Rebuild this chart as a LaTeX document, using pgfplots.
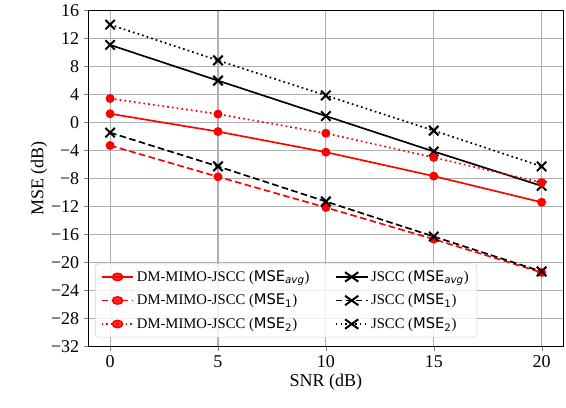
\documentclass[border=0pt]{standalone}
\usepackage{fontspec}
\setmainfont{Liberation Serif}
\newfontfamily\dvs{DejaVu Sans}
\usepackage{pgfplots}
\pgfplotsset{compat=1.18}
\newcommand\mse[1]{{\dvs MSE}\textsubscript{\dvs #1}}
\definecolor{gridgray}{RGB}{176,176,176}
\begin{document}
\begin{tikzpicture}
\begin{axis}[
  scale only axis=true,
  width=356pt, height=252pt,
  xmin=-1, xmax=21, ymin=-32, ymax=16,
  xtick={0,5,10,15,20},
  ytick={-32,-28,...,16},
  /pgf/number format/assume math mode=true,
  xticklabel={\pgfmathprintnumber[assume math mode=true]{\tick}},
  yticklabel={\pgfmathparse{abs(\tick)}\ifdim\tick pt<0pt\char"2212\fi\pgfmathprintnumber[assume math mode=true]{\pgfmathresult}},
  tick pos=left, tick align=outside,
  major tick length=3.5pt,
  grid=major,
  grid style={gridgray, line width=0.8pt},
  axis line style={line width=0.8pt},
  ticklabel style={font=\rmfamily\fontsize{13.5}{16}\selectfont},
  label style={font=\rmfamily\fontsize{13.5}{16}\selectfont},
  xlabel={SNR (dB)}, ylabel={MSE (dB)},
  xlabel style={yshift=2pt},
  ylabel style={yshift=-4pt},
  legend columns=2,
  legend cell align=left,
  legend style={at={(0.014,0.027)}, anchor=south west,
    draw=gray!35, rounded corners=2pt, fill=white, fill opacity=0.8, text opacity=1,
    font=\rmfamily\fontsize{11}{13}\selectfont, row sep=4pt, inner xsep=4pt, inner ysep=3pt,
    /tikz/every even column/.append style={column sep=17pt}},
  legend image post style={xscale=1.4},
]
\addplot[red, line width=1.25pt, mark=*, mark size=2.7pt, mark options={solid}] coordinates {(0,1.25) (5,-1.3) (10,-4.24) (15,-7.66) (20,-11.4)};
\addlegendentry{DM-MIMO-JSCC (\mse{\itshape avg})}
\addplot[black, line width=1.25pt, mark=x, mark size=5pt, mark options={solid, line width=1.5pt}] coordinates {(0,11.08) (5,5.98) (10,0.92) (15,-4.14) (20,-9.06)};
\addlegendentry{JSCC (\mse{\itshape avg})}
\addplot[red, line width=1.25pt, dash pattern=on 5pt off 2.5pt, mark=*, mark size=2.7pt, mark options={solid}] coordinates {(0,-3.28) (5,-7.76) (10,-12.14) (15,-16.67) (20,-21.43)};
\addlegendentry{DM-MIMO-JSCC (\mse{1})}
\addplot[black, line width=1.25pt, dash pattern=on 5pt off 2.5pt, mark=x, mark size=5pt, mark options={solid, line width=1.5pt}] coordinates {(0,-1.45) (5,-6.27) (10,-11.29) (15,-16.29) (20,-21.29)};
\addlegendentry{JSCC (\mse{1})}
\addplot[red, line width=1.25pt, dash pattern=on 1.3pt off 2.3pt, mark=*, mark size=2.7pt, mark options={solid}] coordinates {(0,3.42) (5,1.2) (10,-1.54) (15,-5.0) (20,-8.58)};
\addlegendentry{DM-MIMO-JSCC (\mse{2})}
\addplot[black, line width=1.25pt, dash pattern=on 1.3pt off 2.3pt, mark=x, mark size=5pt, mark options={solid, line width=1.5pt}] coordinates {(0,13.98) (5,8.87) (10,3.86) (15,-1.16) (20,-6.27)};
\addlegendentry{JSCC (\mse{2})}
\end{axis}
\path (current axis.south west) ++(-66.4pt,-45.75pt) rectangle ++(424.5pt,304.5pt);
\end{tikzpicture}
\end{document}
